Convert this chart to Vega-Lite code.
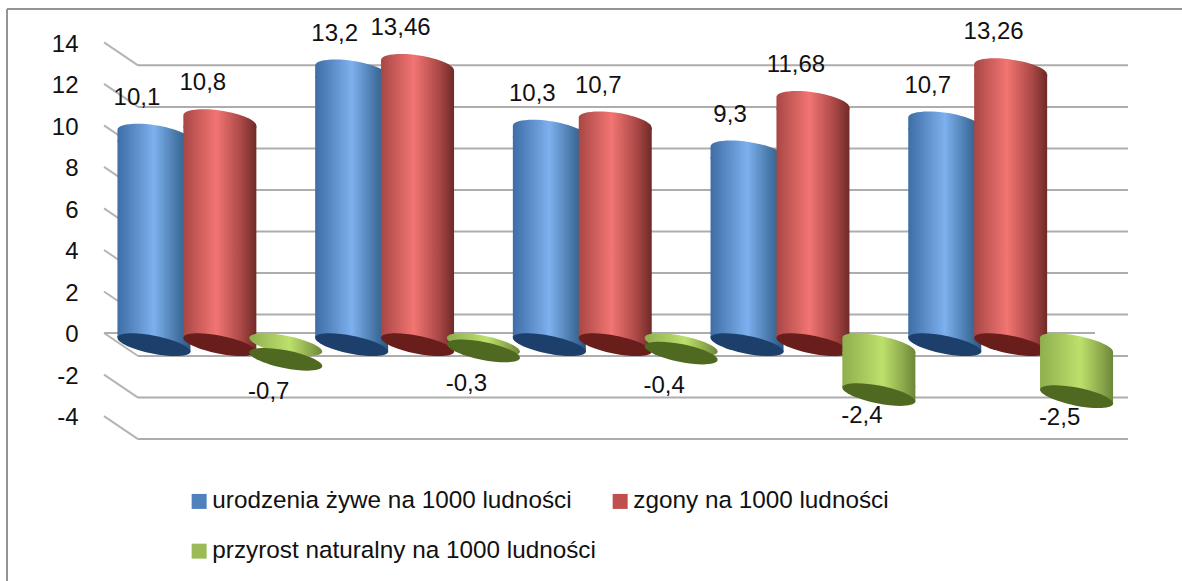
{"$schema":"https://vega.github.io/schema/vega-lite/v6.json","autosize":"none","width":1175,"height":572,"padding":{"left":7,"top":9,"right":0,"bottom":0},"background":"white","config":{"view":{"stroke":null},"font":"Liberation Sans"},
"datasets":{"rows":[
{"category":"1","series":"urodzenia żywe na 1000 ludności","value":10.1,"label":"10,1"},
{"category":"1","series":"zgony na 1000 ludności","value":10.8,"label":"10,8"},
{"category":"1","series":"przyrost naturalny na 1000 ludności","value":-0.7,"label":"-0,7"},
{"category":"2","series":"urodzenia żywe na 1000 ludności","value":13.2,"label":"13,2"},
{"category":"2","series":"zgony na 1000 ludności","value":13.46,"label":"13,46"},
{"category":"2","series":"przyrost naturalny na 1000 ludności","value":-0.3,"label":"-0,3"},
{"category":"3","series":"urodzenia żywe na 1000 ludności","value":10.3,"label":"10,3"},
{"category":"3","series":"zgony na 1000 ludności","value":10.7,"label":"10,7"},
{"category":"3","series":"przyrost naturalny na 1000 ludności","value":-0.4,"label":"-0,4"},
{"category":"4","series":"urodzenia żywe na 1000 ludności","value":9.3,"label":"9,3"},
{"category":"4","series":"zgony na 1000 ludności","value":11.68,"label":"11,68"},
{"category":"4","series":"przyrost naturalny na 1000 ludności","value":-2.4,"label":"-2,4"},
{"category":"5","series":"urodzenia żywe na 1000 ludności","value":10.7,"label":"10,7"},
{"category":"5","series":"zgony na 1000 ludności","value":13.26,"label":"13,26"},
{"category":"5","series":"przyrost naturalny na 1000 ludności","value":-2.5,"label":"-2,5"}
],"ticks":[{"tick":14},{"tick":12},{"tick":10},{"tick":8},{"tick":6},{"tick":4},{"tick":2},{"tick":0},{"tick":-2},{"tick":-4}]},
"layer":[
{"data":{"name":"ticks"},"layer":[
{"mark":{"type":"rule","stroke":"#949494","strokeWidth":2},"encoding":{"x":{"datum":7,"type":"quantitative","scale":{"domain":[7,1182],"nice":false,"zero":false},"axis":null}}},
{"mark":{"type":"rule","stroke":"#949494","strokeWidth":2},"encoding":{"x":{"datum":7,"type":"quantitative"},"x2":{"datum":1182},"y":{"datum":16.17,"type":"quantitative"}}},
{"mark":{"type":"rule","stroke":"#adadad","strokeWidth":2,"yOffset":11.3},"encoding":{"x":{"datum":138,"type":"quantitative"},"x2":{"datum":1128},
"y":{"field":"tick","type":"quantitative","scale":{"domain":[16.17,-11.38],"nice":false,"zero":false,"reverse":false,"range":[0,572]},"axis":{"values":[14,12,10,8,6,4,2,0,-2,-4],"title":null,"domain":false,"ticks":false,"grid":false,"labelFontSize":24,"labelColor":"#111111","labelOffset":-10,"offset":-71,"labelPadding":0,"labelExpr":"''+datum.value"}}}},
{"mark":{"type":"rule","stroke":"#b5b5b5","strokeWidth":2,"yOffset":-11.7,"y2Offset":11.3},"encoding":{"x":{"datum":104,"type":"quantitative"},"x2":{"datum":138},"y":{"field":"tick","type":"quantitative"},"y2":{"field":"tick"}}},
{"transform":[{"filter":"datum.tick===0"}],"mark":{"type":"rule","stroke":"#adadad","strokeWidth":2,"yOffset":-11.7},"encoding":{"x":{"datum":104,"type":"quantitative"},"x2":{"datum":1095},"y":{"field":"tick","type":"quantitative"}}}
]},
{"data":{"name":"rows"},
"encoding":{"x":{"field":"category","type":"nominal","axis":null,"scale":{"type":"band","domain":["1","2","3","4","5"],"range":[114,1102.5],"paddingInner":0,"paddingOuter":0}},
"xOffset":{"field":"series","type":"nominal","scale":{"type":"band","domain":["urodzenia żywe na 1000 ludności","zgony na 1000 ludności","przyrost naturalny na 1000 ludności"],"paddingInner":0,"paddingOuter":0}},
"y":{"field":"value","type":"quantitative"}},
"layer":[
{"mark":{"type":"square","size":30,"opacity":1,"filled":true},"encoding":{"color":{"field":"series","type":"nominal","scale":{"domain":["urodzenia żywe na 1000 ludności","zgony na 1000 ludności","przyrost naturalny na 1000 ludności"],"range":["#4f81bd","#c0504d","#9bbb59"]},"legend":{"orient":"none","direction":"horizontal","legendX":180,"legendY":480,"columns":2,"title":null,"symbolType":"square","symbolSize":225,"labelFontSize":24.3,"labelColor":"#111111","labelLimit":500,"rowPadding":25,"columnPadding":12,"symbolStrokeWidth":0,"labelOffset":1}}}},

{"transform":[{"filter":{"field":"series","equal":"urodzenia żywe na 1000 ludności"}}],"layer":[
{"mark":{"type":"bar","width":73,"yOffset":5.5,"y2Offset":-7.3,"fill":{"x1":0,"x2":1,"y1":0,"y2":0,"gradient":"linear","stops":[{"offset":0,"color":"#3e6da6"},{"offset":0.5,"color":"#7db0ee"},{"offset":0.85,"color":"#40709f"},{"offset":1,"color":"#2f5480"}]}},"encoding":{"y2":{"datum":0}}},
{"mark":{"type":"point","filled":true,"opacity":1,"strokeWidth":0,"size":5329,"shape":"M-1,-0.15A1.01,0.27,8.5,0,1,1,0.15L1,0.2L-1,0.2Z","fill":{"x1":0,"x2":1,"y1":0,"y2":0,"gradient":"linear","stops":[{"offset":0,"color":"#3e6da6"},{"offset":0.5,"color":"#7db0ee"},{"offset":0.85,"color":"#40709f"},{"offset":1,"color":"#2f5480"}]}}},
{"mark":{"type":"point","filled":true,"opacity":1,"strokeWidth":0,"size":5329,"shape":"M-1,-0.2L-1,-0.24L1,-0.24L1,0.2Z","fill":{"x1":0,"x2":1,"y1":0,"y2":0,"gradient":"linear","stops":[{"offset":0,"color":"#3e6da6"},{"offset":0.5,"color":"#7db0ee"},{"offset":0.85,"color":"#40709f"},{"offset":1,"color":"#2f5480"}]}},"encoding":{"y":{"datum":0,"type":"quantitative"}}},
{"mark":{"type":"point","filled":true,"opacity":1,"strokeWidth":0,"size":5329,"shape":"M-1,-0.2A1.02,0.25,11.3,0,1,1,0.2A1.02,0.25,11.3,0,1,-1,-0.2Z","fill":"#1d3f6c"},"encoding":{"y":{"datum":0,"type":"quantitative"}}}
]},

{"transform":[{"filter":{"field":"series","equal":"zgony na 1000 ludności"}}],"layer":[
{"mark":{"type":"bar","width":73,"yOffset":5.5,"y2Offset":-7.3,"fill":{"x1":0,"x2":1,"y1":0,"y2":0,"gradient":"linear","stops":[{"offset":0,"color":"#a84745"},{"offset":0.45,"color":"#f27572"},{"offset":0.8,"color":"#a84745"},{"offset":1,"color":"#6f2a28"}]}},"encoding":{"y2":{"datum":0}}},
{"mark":{"type":"point","filled":true,"opacity":1,"strokeWidth":0,"size":5329,"shape":"M-1,-0.15A1.01,0.27,8.5,0,1,1,0.15L1,0.2L-1,0.2Z","fill":{"x1":0,"x2":1,"y1":0,"y2":0,"gradient":"linear","stops":[{"offset":0,"color":"#a84745"},{"offset":0.45,"color":"#f27572"},{"offset":0.8,"color":"#a84745"},{"offset":1,"color":"#6f2a28"}]}}},
{"mark":{"type":"point","filled":true,"opacity":1,"strokeWidth":0,"size":5329,"shape":"M-1,-0.2L-1,-0.24L1,-0.24L1,0.2Z","fill":{"x1":0,"x2":1,"y1":0,"y2":0,"gradient":"linear","stops":[{"offset":0,"color":"#a84745"},{"offset":0.45,"color":"#f27572"},{"offset":0.8,"color":"#a84745"},{"offset":1,"color":"#6f2a28"}]}},"encoding":{"y":{"datum":0,"type":"quantitative"}}},
{"mark":{"type":"point","filled":true,"opacity":1,"strokeWidth":0,"size":5329,"shape":"M-1,-0.2A1.02,0.25,11.3,0,1,1,0.2A1.02,0.25,11.3,0,1,-1,-0.2Z","fill":"#6a1e1b"},"encoding":{"y":{"datum":0,"type":"quantitative"}}}
]},

{"transform":[{"filter":{"field":"series","equal":"przyrost naturalny na 1000 ludności"}},{"filter":"datum.value<-1"}],"layer":[
{"mark":{"type":"bar","width":73,"yOffset":7.3,"y2Offset":-7.3,"fill":{"x1":0,"x2":1,"y1":0,"y2":0,"gradient":"linear","stops":[{"offset":0,"color":"#8fae4e"},{"offset":0.55,"color":"#bde06c"},{"offset":0.85,"color":"#8aa64a"},{"offset":1,"color":"#6d8639"}]}},"encoding":{"y":{"datum":0,"type":"quantitative"},"y2":{"field":"value"}}},
{"mark":{"type":"point","filled":true,"opacity":1,"strokeWidth":0,"size":5329,"shape":"M-1,-0.2A1.02,0.25,11.3,0,1,1,0.2L1,0.24L-1,0.24Z","fill":{"x1":0,"x2":1,"y1":0,"y2":0,"gradient":"linear","stops":[{"offset":0,"color":"#8fae4e"},{"offset":0.55,"color":"#bde06c"},{"offset":0.85,"color":"#8aa64a"},{"offset":1,"color":"#6d8639"}]}},"encoding":{"y":{"datum":0,"type":"quantitative"}}},
{"mark":{"type":"point","filled":true,"opacity":1,"strokeWidth":0,"size":5329,"shape":"M-1,-0.2L-1,-0.24L1,-0.24L1,0.2Z","fill":{"x1":0,"x2":1,"y1":0,"y2":0,"gradient":"linear","stops":[{"offset":0,"color":"#8fae4e"},{"offset":0.55,"color":"#bde06c"},{"offset":0.85,"color":"#8aa64a"},{"offset":1,"color":"#6d8639"}]}}},
{"mark":{"type":"point","filled":true,"opacity":1,"strokeWidth":0,"size":5329,"shape":"M-1,-0.2A1.02,0.25,11.3,0,1,1,0.2A1.02,0.25,11.3,0,1,-1,-0.2Z","fill":"#4f6a20"}}
]},

{"transform":[{"filter":{"field":"series","equal":"przyrost naturalny na 1000 ludności"}},{"filter":"datum.value>=-1"}],"layer":[
{"mark":{"type":"point","filled":true,"opacity":1,"strokeWidth":0,"size":5329,"shape":"M-1,-0.2A1.02,0.25,11.3,0,1,1,0.2A1.02,0.25,11.3,0,1,-1,-0.2Z","fill":{"x1":0,"x2":1,"y1":0,"y2":0,"gradient":"linear","stops":[{"offset":0,"color":"#8fae4e"},{"offset":0.55,"color":"#bde06c"},{"offset":0.85,"color":"#8aa64a"},{"offset":1,"color":"#6d8639"}]}},"encoding":{"y":{"datum":0,"type":"quantitative"}}},
{"mark":{"type":"point","filled":true,"opacity":1,"strokeWidth":0,"size":5329,"shape":"M-1,-0.2A1.02,0.25,11.3,0,1,1,0.2A1.02,0.25,11.3,0,1,-1,-0.2Z","fill":"#4f6a20"}}
]},

{"transform":[{"filter":"datum.value>0"}],"mark":{"type":"text","fontSize":24,"color":"#111111","dx":-17,"dy":-37,"baseline":"middle"},"encoding":{"text":{"field":"label"}}},
{"transform":[{"filter":"datum.value<0 && datum.value>=-1"}],"mark":{"type":"text","fontSize":24,"color":"#111111","dx":-17,"dy":33,"baseline":"middle"},"encoding":{"text":{"field":"label"}}},
{"transform":[{"filter":"datum.value<-1"}],"mark":{"type":"text","fontSize":24,"color":"#111111","dx":-17,"dy":21,"baseline":"middle"},"encoding":{"text":{"field":"label"}}}
]}
],"resolve":{"scale":{"x":"independent"}}}
